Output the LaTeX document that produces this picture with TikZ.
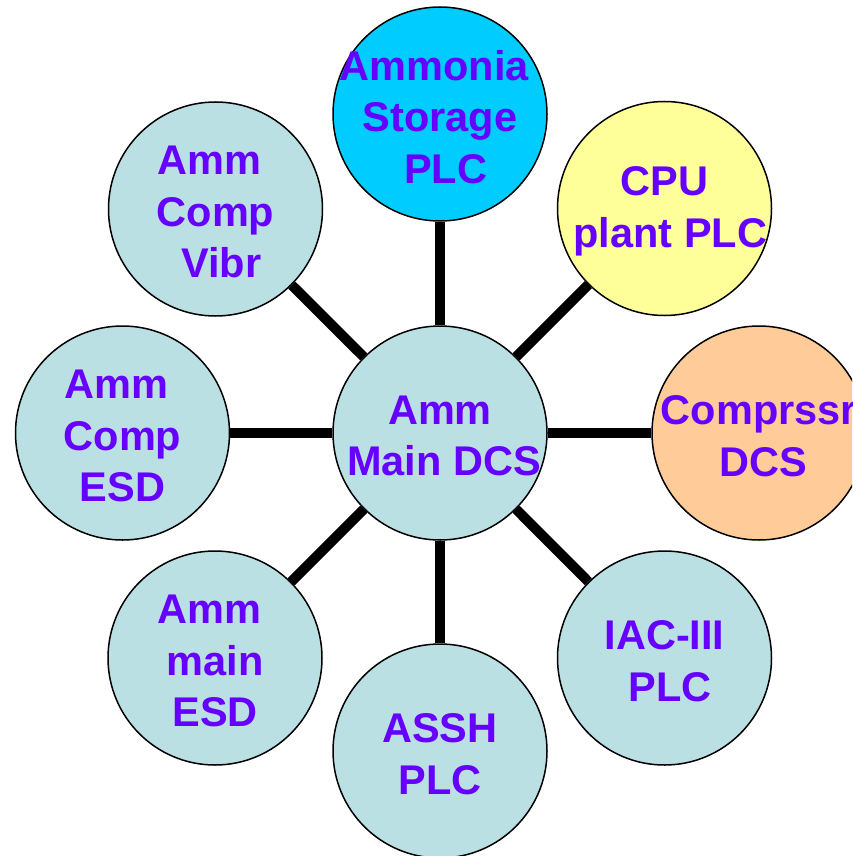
\documentclass[tikz,border=0pt]{standalone}
\usepackage{fontspec}
\setmainfont{Liberation Sans}
\definecolor{txtpurple}{HTML}{6600FF}
\definecolor{ballblue}{HTML}{BBE0E3}
\definecolor{ballcyan}{HTML}{00CCFF}
\definecolor{ballyellow}{HTML}{FFFF99}
\definecolor{ballorange}{HTML}{FFCC99}
\newcommand\hs{\hspace*{11.6pt}}
\tikzset{
  ball/.style={circle, draw=black, line width=1.5pt, minimum size=214pt, inner sep=0pt, fill=ballblue},
  lbl/.style={align=center, text=txtpurple, font=\fontsize{41.5}{51.5}\selectfont\bfseries, inner sep=0pt, yshift=-3pt},
  link/.style={line width=10pt, draw=black}
}
\begin{document}
\begin{tikzpicture}[x=1pt,y=-1pt]
\useasboundingbox (0,0) rectangle (852,856);
\clip (0,0) rectangle (852,856);
\node[ball] (c) at (440,433) {};
\node[ball, fill=ballcyan] (top) at (440,114) {};
\node[ball, fill=ballyellow] (cpu) at (664.5,208.5) {};
\node[ball, fill=ballorange] (comp) at (759,433) {};
\node[ball] (iac) at (664.5,658) {};
\node[ball] (assh) at (440,751) {};
\node[ball] (mesd) at (215,658) {};
\node[ball] (cesd) at (122.5,433) {};
\node[ball] (vibr) at (215.5,209) {};
\foreach \n in {top,cpu,comp,iac,assh,mesd,cesd,vibr}{
  \draw[link] (c) -- (\n);
}
\node[lbl] (c-t) at (c) {Amm\\\hspace*{8pt}Main DCS};
\node[lbl] (top-t) at (top) {Ammonia\hs\\Storage\\\hs PLC};
\node[lbl] (cpu-t) at (cpu) {CPU\\\hs plant PLC};
\node[lbl] (comp-t) at (comp) {Comprssr\\\hspace*{8pt}DCS};
\node[lbl] (iac-t) at (iac) {IAC-III\\\hs PLC};
\node[lbl] (assh-t) at (assh) {ASSH\\PLC};
\node[lbl] (mesd-t) at (mesd) {Amm\hs\\main\\ESD};
\node[lbl] (cesd-t) at (cesd) {Amm\hs\\Comp\hs\\ESD};
\node[lbl] (vibr-t) at (vibr) {Amm\hs\\Comp\\\hs Vibr};
\end{tikzpicture}
\end{document}
